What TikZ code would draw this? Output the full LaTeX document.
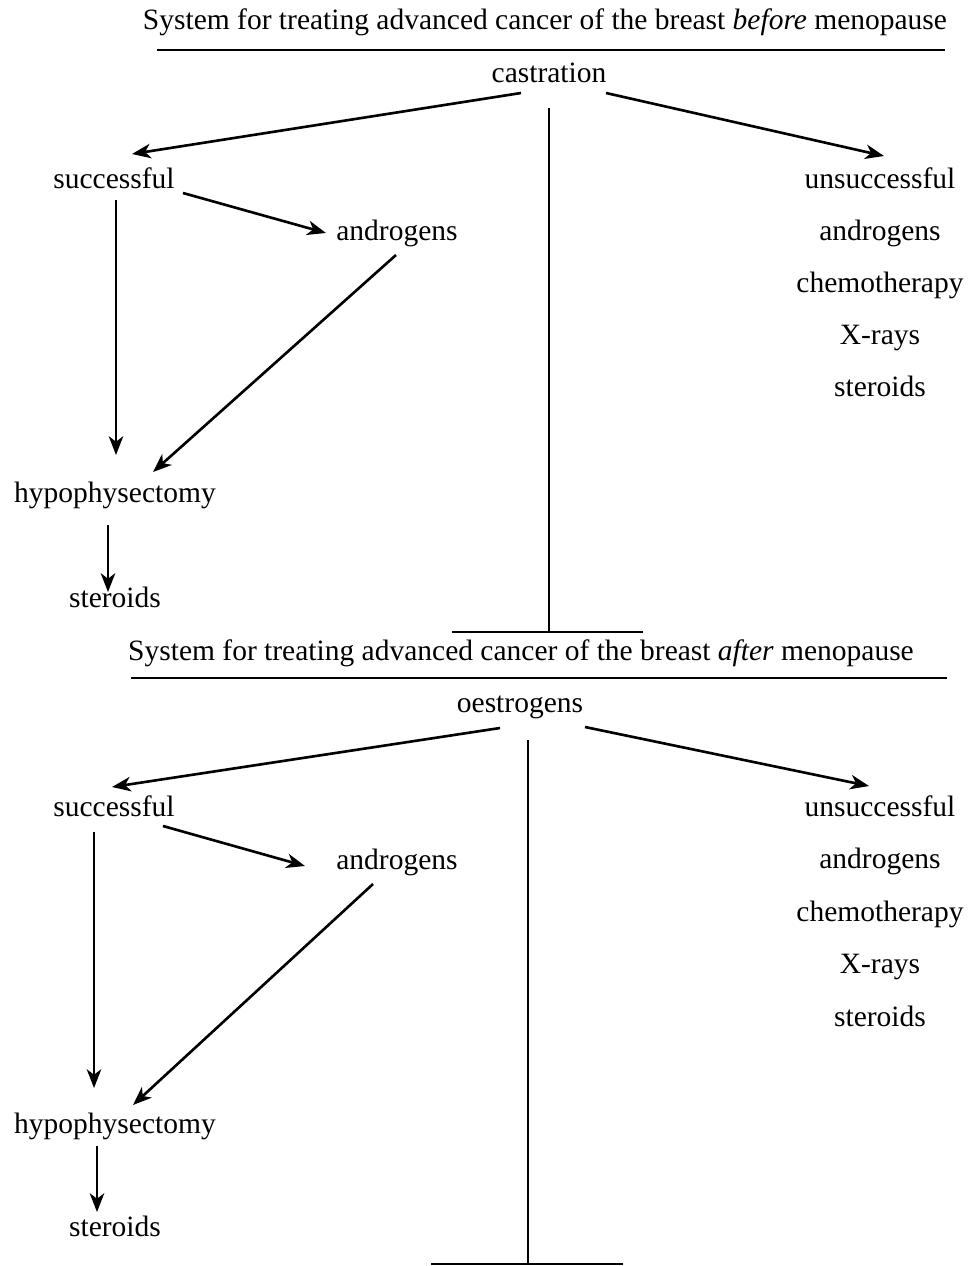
\documentclass[tikz,border=0pt]{standalone}
\usepackage{fontspec}
\setmainfont{Liberation Serif}
\usetikzlibrary{arrows.meta}

\begin{document}
\begin{tikzpicture}[x=0.4pt, y=-0.4pt, line width=1.05pt,
  lbl/.style={inner sep=0pt, text height=1.8ex, text depth=0.5ex, font=\fontsize{11.8}{14}\selectfont},
  arr/.style={-{Stealth[length=7.5pt, width=5.8pt, inset=2.2pt]}}]
\useasboundingbox (0,0) rectangle (967,1266);

% before menopause
\node[lbl] (ttl1) at (545,22) {System for treating advanced cancer of the breast \emph{before} menopause};
\draw (157,50) -- (945,50);

\node[lbl] (cas1) at (549,75) {castration};
\node[lbl] (suc1) at (114,181) {successful};
\node[lbl] (uns1) at (880,181) {unsuccessful};
\node[lbl] (and1) at (397,233) {androgens};
\node[lbl] (hyp1) at (115,495) {hypophysectomy};
\node[lbl] (ste1) at (115,600) {steroids};
\foreach \t [count=\i] in {androgens,chemotherapy,X-rays,steroids}
  \node[lbl] (alt1\i) at (880,181+52*\i) {\t};
\coordinate (bar1) at (549,632);

\draw[arr] ([shift={(-28,18)}]cas1.center) -- ([shift={(18,-27)}]suc1.center);
\draw[arr] ([shift={(57,18)}]cas1.center) -- ([shift={(4,-25)}]uns1.center);
\draw ([shift={(0,33)}]cas1.center) -- (bar1);
\draw ([shift={(-97,0)}]bar1) -- ([shift={(94,0)}]bar1);
\draw[arr] ([shift={(69,12)}]suc1.center) -- ([shift={(-71,0)}]and1.center);
\draw[arr] ([shift={(2,19)}]suc1.center) -- ([shift={(1,-40)}]hyp1.center);
\draw[arr] ([shift={(-1,22)}]and1.center) -- ([shift={(38,-23)}]hyp1.center);
\draw[arr] ([shift={(-7,30)}]hyp1.center) -- ([shift={(-7,-8)}]ste1.center);

% after menopause
\node[lbl] (ttl2) at (521,653) {System for treating advanced cancer of the breast \emph{after} menopause};
\draw (131,678) -- (947,678);

\node[lbl] (oes2) at (520,705) {oestrogens};
\node[lbl] (suc2) at (114,809) {successful};
\node[lbl] (uns2) at (880,809) {unsuccessful};
\node[lbl] (and2) at (397,862) {androgens};
\node[lbl] (hyp2) at (115,1126) {hypophysectomy};
\node[lbl] (ste2) at (115,1229) {steroids};
\foreach \t [count=\i] in {androgens,chemotherapy,X-rays,steroids}
  \node[lbl] (alt2\i) at (880,809+52.5*\i) {\t};
\coordinate (bar2) at (528,1264);

\draw[arr] ([shift={(-20,23)}]oes2.center) -- ([shift={(-2,-22)}]suc2.center);
\draw[arr] ([shift={(65,22)}]oes2.center) -- ([shift={(-11,-23)}]uns2.center);
\draw ([shift={(8,35)}]oes2.center) -- (bar2);
\draw ([shift={(-97,0)}]bar2) -- ([shift={(95,0)}]bar2);
\draw[arr] ([shift={(49,17)}]suc2.center) -- ([shift={(-92,4)}]and2.center);
\draw[arr] ([shift={(-20,23)}]suc2.center) -- ([shift={(-21,-38)}]hyp2.center);
\draw[arr] ([shift={(-24,22)}]and2.center) -- ([shift={(18,-21)}]hyp2.center);
\draw[arr] ([shift={(-18,20)}]hyp2.center) -- ([shift={(-18,-17)}]ste2.center);
\end{tikzpicture}
\end{document}
